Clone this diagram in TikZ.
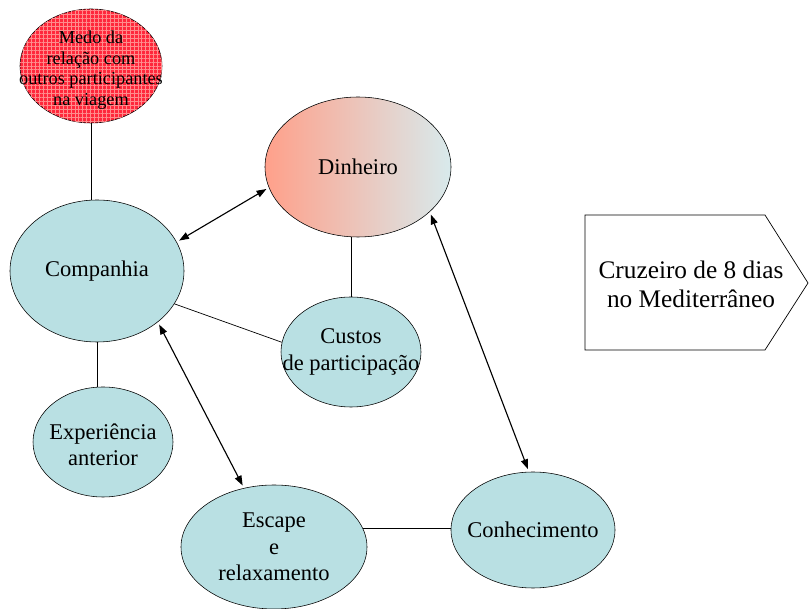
\documentclass[tikz,border=0pt]{standalone}
\usepackage{fontspec}
\setmainfont{Liberation Serif}
\usepackage{tikz}
\usetikzlibrary{arrows.meta,shapes.geometric,positioning,calc,patterns.meta}
\definecolor{celeste}{RGB}{185,224,227}
\definecolor{salmao}{RGB}{255,160,138}
\definecolor{gelo}{RGB}{216,234,236}
\definecolor{rubro}{RGB}{255,40,60}

\begin{document}
\begin{tikzpicture}[
    elli/.style={draw, ellipse, fill=celeste, inner sep=0pt},
    txt/.style={align=center, inner sep=0pt, font=\fontsize{16}{19}\selectfont},
    arr/.style={{Triangle[length=7pt,width=5pt]}-{Triangle[length=7pt,width=5pt]}, line width=0.8pt, shorten <=2pt, shorten >=2pt},
    lnk/.style={draw, line width=0.5pt}
]
\useasboundingbox (0,0) rectangle (20.225,-15.225);
\node[elli, minimum width=3.55cm, minimum height=2.85cm, fill=rubro,
  postaction={pattern={Hatch[angle=0,distance=2.8pt,line width=0.35pt]}, pattern color=red!45!white}] (medo) at (2.275,-1.65) {};
\node[elli, minimum width=4.35cm, minimum height=3.55cm] (comp) at (2.425,-6.775) {};
\node[elli, minimum width=4.65cm, minimum height=3.5cm, left color=salmao, middle color=salmao!55!gelo, right color=gelo] (din) at (8.95,-4.175) {};
\node[elli, minimum width=3.5cm, minimum height=2.75cm] (cust) at (8.775,-8.8) {};
\node[elli, minimum width=3.5cm, minimum height=2.75cm] (exp) at (2.575,-11.05) {};
\node[elli, minimum width=4.65cm, minimum height=3.1cm] (esc) at (6.85,-13.675) {};
\node[elli, minimum width=4.1cm, minimum height=2.9cm] (con) at (13.325,-13.25) {};

\node[txt, font=\fontsize{13}{14.8}\selectfont] (medo-t) at ([yshift=-3pt]medo) {Medo da\\relação com\\outros participantes\\na viagem};
\node[txt] (comp-t) at (comp) {Companhia};
\node[txt] (din-t) at (din) {Dinheiro};
\node[txt] (cust-t) at (cust) {Custos\\de participação};
\node[txt] (exp-t) at ([yshift=-2pt]exp) {Experiência\\anterior};
\node[txt] (esc-t) at (esc) {Escape\\e\\relaxamento};
\node[txt] (con-t) at (con) {Conhecimento};

\draw[line width=0.5pt] (14.625,-5.375) -- (19.125,-5.375) -- (20.2,-7.075) -- (19.125,-8.75) -- (14.625,-8.75) -- cycle;
\node[txt, font=\fontsize{18}{20.5}\selectfont] (cruz) at (17.275,-7.1) {Cruzeiro de 8 dias\\no Mediterrâneo};

\draw[lnk] (medo.south) -- (medo.south |- comp.north);
\draw[lnk] (cust.north |- din.south) -- (cust.north);
\draw[lnk] (comp.-23) -- (cust.172);
\draw[lnk] (comp.south) -- (comp.south |- exp.north);
\draw[lnk] (esc.12) -- (esc.12 -| con.west);
\draw[arr] (comp.20) -- (din.193);
\draw[arr] (comp.320) -- (esc.117);
\draw[arr] (din.328) -- (con.94);
\end{tikzpicture}
\end{document}
